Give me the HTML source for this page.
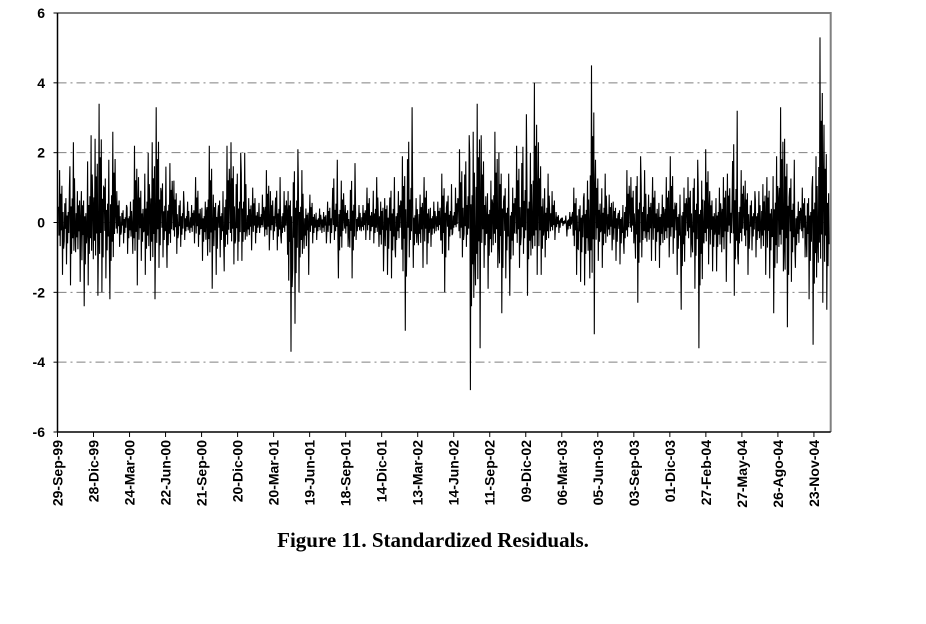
<!DOCTYPE html>
<html><head><meta charset="utf-8"><style>
html,body{margin:0;padding:0;background:#fff;}
svg{display:block;}
</style></head><body>
<svg id="chart" width="926" height="624" xmlns="http://www.w3.org/2000/svg" font-family="Liberation Sans, Arial, sans-serif">
</svg>
<script>
const yTicks = [6,4,2,0,-2,-4,-6];
const xLabels = ["29-Sep-99","28-Dic-99","24-Mar-00","22-Jun-00","21-Sep-00","20-Dic-00","20-Mar-01","19-Jun-01","18-Sep-01","14-Dic-01","13-Mar-02","14-Jun-02","11-Sep-02","09-Dic-02","06-Mar-03","05-Jun-03","03-Sep-03","01-Dic-03","27-Feb-04","27-May-04","26-Ago-04","23-Nov-04"];
// envelope readings (high, low) per column, left to right
const highs = [1.5,1.0,2.3,0.9,0.9,2.5,2.4,3.4,1.8,2.6,0.9,0.5,0.6,2.2,1.3,2.0,2.3,3.3,1.6,1.7,1.2,0.9,0.6,0.5,1.3,0.6,2.2,0.8,0.9,2.2,2.3,2.0,2.0,0.7,1.0,0.8,1.5,0.9,1.3,0.9,0.9,2.1,1.5,0.4,0.8,0.4,0.3,0.6,1.8,1.2,0.5,1.7,0.5,0.5,1.0,1.3,0.6,0.7,1.3,0.9,1.9,3.3,0.7,0.8,1.3,0.6,0.6,1.4,1.1,1.0,2.1,2.5,2.6,3.4,2.5,1.2,2.6,2.0,1.4,1.0,2.2,3.1,2.0,4.0,2.3,1.4,0.9,0.3,0.2,0.3,1.0,0.7,1.2,4.5,1.8,1.4,0.8,0.6,0.5,1.5,1.3,1.9,1.5,0.8,1.3,0.8,1.3,1.9,0.8,1.0,1.3,1.8,1.2,2.1,0.9,1.0,1.3,1.4,3.2,1.5,1.2,0.9,0.9,1.1,1.3,1.9,3.3,2.4,1.8,0.6,1.0,1.0,1.9,5.3,2.8];
const lows = [-1.5,-1.2,-1.8,-1.7,-2.4,-1.8,-2.1,-2.0,-1.6,-2.2,-0.7,-0.6,-0.9,-1.8,-1.1,-1.5,-2.2,-1.3,-1.0,-1.3,-0.9,-0.7,-0.5,-0.6,-0.7,-1.1,-1.9,-1.5,-1.0,-1.4,-1.2,-1.1,-1.1,-0.8,-0.6,-0.3,-0.8,-0.5,-0.8,-0.6,-3.7,-2.9,-2.0,-1.5,-0.6,-0.5,-0.6,-0.6,-0.5,-1.6,-0.7,-1.6,-0.5,-0.5,-0.5,-0.6,-1.4,-1.5,-1.6,-1.0,-3.1,-1.0,-1.3,-1.3,-1.2,-0.7,-0.5,-2.0,-0.8,-0.3,-1.0,-0.7,-4.8,-3.6,-1.3,-1.9,-1.3,-2.6,-1.6,-2.1,-1.3,-0.9,-2.1,-1.5,-1.5,-1.0,-0.5,-0.3,-0.1,-0.4,-1.5,-1.7,-1.8,-3.2,-1.1,-1.3,-0.8,-1.1,-1.2,-0.9,-0.6,-2.3,-1.0,-1.1,-1.1,-1.3,-1.0,-0.9,-1.5,-2.5,-1.0,-1.9,-3.6,-1.2,-1.4,-1.4,-1.7,-0.6,-2.1,-1.2,-1.5,-0.8,-1.0,-1.5,-1.6,-2.6,-1.4,-3.0,-1.7,-1.3,-1.0,-2.2,-3.5,-2.3,-2.5];

const NS="http://www.w3.org/2000/svg";
const svg=document.getElementById('chart');
const L=57.5,R=830.7,T=13,B=432;
const yScale=v=>T+(6-v)/12*(B-T);
const tickX=i=>L+i*36.02;
function mk(tag,attrs){const e=document.createElementNS(NS,tag);for(const k in attrs)e.setAttribute(k,attrs[k]);svg.appendChild(e);return e;}

yTicks.forEach(v=>{
  if(v!==6&&v!==-6){
    const g=mk('line',{x1:L,x2:R,y1:yScale(v),y2:yScale(v),stroke:'#808080','stroke-width':1,'stroke-dasharray':'9,4,2,4'});
    
    
  }
  const t=mk('text',{x:45,y:yScale(v)+5,'text-anchor':'end','font-size':14,'font-weight':'bold',fill:'#000'});
  t.textContent=v;
  
  
});
const fr=mk('polyline',{points:`${L},${T} ${R},${T} ${R},${B}`,fill:'none',stroke:'#808080','stroke-width':2});


const ya=mk('line',{x1:L,x2:L,y1:T,y2:B,stroke:'#000','stroke-width':1.5});


const xa=mk('line',{x1:L,x2:R,y1:B,y2:B,stroke:'#000','stroke-width':1.5});


yTicks.forEach(v=>{const tk=mk('line',{x1:L-4,x2:L,y1:yScale(v),y2:yScale(v),stroke:'#000','stroke-width':1});

});
xLabels.forEach((lab,i)=>{
  const x=tickX(i);
  const tk=mk('line',{x1:x,x2:x,y1:B,y2:B+5,stroke:'#000','stroke-width':1});
  
  
  const t=mk('text',{x:0,y:0,'text-anchor':'end','font-size':14,'font-weight':'bold',fill:'#000',transform:`translate(${x+5},${B+8}) rotate(-90)`});
  t.textContent=lab;
  
  
});
// series: each column drawn as a dense zigzag reaching its high and low
const n=highs.length;
const colW=(R-L-2)/n;
const shape=[0.3,-0.25,1,-0.45,0.55,-0.15,0.7,-1,0.2,-0.5];
let pts=[];
for(let i=0;i<n;i++){
  const x0=L+1+i*colW;
  const k=shape.length;
  for(let j=0;j<k;j++){
    const s=shape[(j+i*3)%k];
    const v=s>=0?s*highs[i]:-s*lows[i];
    pts.push(`${(x0+colW*j/k).toFixed(1)},${yScale(v).toFixed(1)}`);
  }
}
const line=mk('polyline',{points:pts.join(' '),fill:'none',stroke:'#000','stroke-width':1.1,'stroke-linejoin':'miter'});


const cap=mk('text',{x:433,y:547,'text-anchor':'middle','font-size':21,'font-weight':'bold','font-family':'Liberation Serif, serif',fill:'#000'});
cap.textContent='Figure 11. Standardized Residuals.';


</script>
</body></html>
